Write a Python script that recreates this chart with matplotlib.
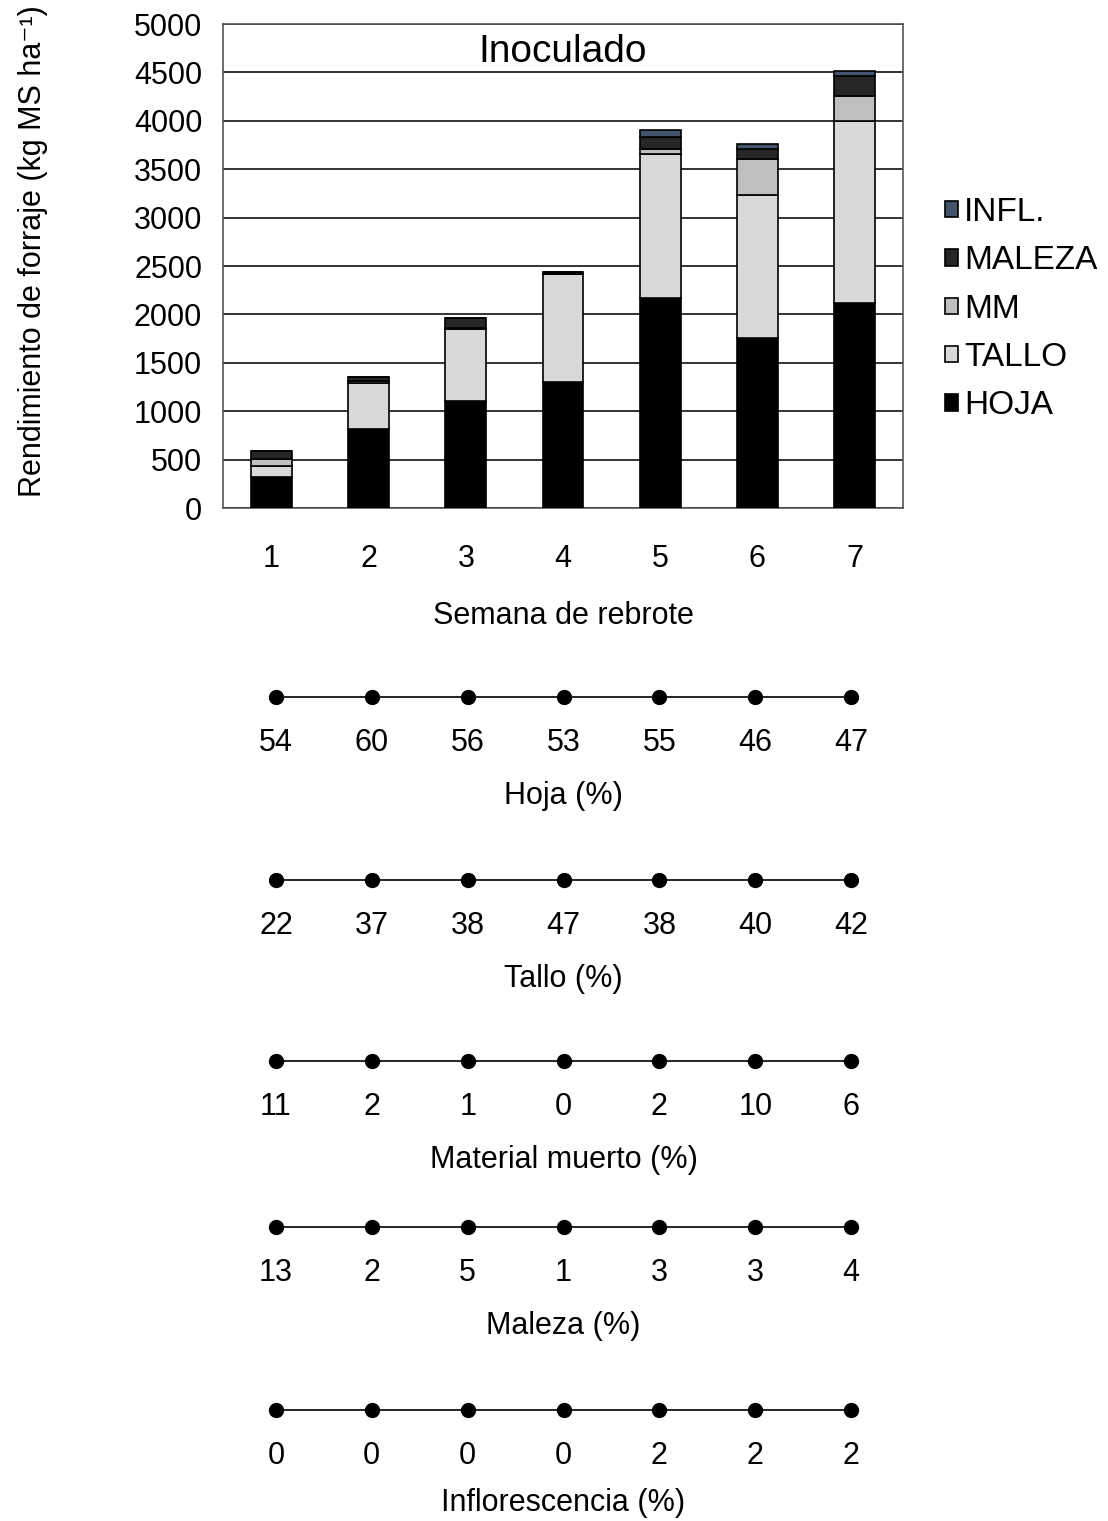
import numpy as np
import matplotlib.pyplot as plt

plt.rcParams['font.family'] = ['Liberation Sans', 'DejaVu Sans']

semanas = ['1', '2', '3', '4', '5', '6', '7']
hoja = [320, 815, 1105, 1300, 2165, 1755, 2115]
tallo = [115, 480, 740, 1115, 1490, 1480, 1880]
mm = [70, 18, 18, 5, 55, 370, 260]
maleza = [85, 45, 100, 20, 120, 100, 205]
infl = [0, 0, 0, 0, 75, 60, 50]

pct_hoja = [54, 60, 56, 53, 55, 46, 47]
pct_tallo = [22, 37, 38, 47, 38, 40, 42]
pct_mm = [11, 2, 1, 0, 2, 10, 6]
pct_maleza = [13, 2, 5, 1, 3, 3, 4]
pct_infl = [0, 0, 0, 0, 2, 2, 2]

W, H = 1108, 1521
fig = plt.figure(figsize=(W / 100, H / 100), dpi=100)


def px_axes(left, top, right, bottom):
  return fig.add_axes([left / W, 1 - bottom / H, (right - left) / W, (bottom - top) / H])


# main stacked bar chart
ax = px_axes(223, 24, 903, 508)
x = np.arange(len(semanas))
series = [('HOJA', hoja, '#000000'),
          ('TALLO', tallo, '#d9d9d9'),
          ('MM', mm, '#bfbfbf'),
          ('MALEZA', maleza, '#262626'),
          ('INFL.', infl, '#44546a')]
bottom = np.zeros(len(semanas))
handles = []
for name, vals, col in series:
  b = ax.bar(x, vals, width=0.42, bottom=bottom, color=col, edgecolor='black',
             linewidth=1.2, label=name, zorder=3)
  handles.append(b)
  bottom += np.array(vals)

ax.set_xlim(-0.5, 6.5)
ax.set_ylim(0, 5000)
ax.set_yticks(np.arange(0, 5001, 500))
ax.set_xticks(x)
ax.set_xticklabels(semanas)
ax.yaxis.grid(True, color='#111111', linewidth=1.2, zorder=0)
ax.tick_params(axis='both', labelsize=22, length=0)
ax.tick_params(axis='x', pad=26)
ax.tick_params(axis='y', pad=15)
for s in ax.spines.values():
  s.set_color('#555555')
  s.set_linewidth(1.2)
ax.text(0.5, 0.943, 'Inoculado', transform=ax.transAxes, ha='center', va='center', fontsize=28)
ax.set_xlabel('Semana de rebrote', fontsize=22, labelpad=19)
ax.set_ylabel('Rendimiento de forraje (kg MS ha⁻¹)', fontsize=22)
ax.yaxis.set_label_coords(-0.257, 0.531)

leg = fig.legend(handles[::-1], [s[0] for s in series][::-1],
                 loc='upper left', bbox_to_anchor=(945 / W, 1 - 197 / H),
                 frameon=False, fontsize=24, handlelength=0.38, handleheight=0.38,
                 handletextpad=0.2, labelspacing=0.52, borderaxespad=0, borderpad=0)

# strips of percentages
strips = [('Hoja (%)', pct_hoja, 697, 17),
          ('Tallo (%)', pct_tallo, 880, 17),
          ('Material muerto (%)', pct_mm, 1061, 17),
          ('Maleza (%)', pct_maleza, 1227, 17),
          ('Inflorescencia (%)', pct_infl, 1410, 12)]
for title, vals, yl, lp in strips:
  sa = px_axes(228, yl - 10, 899, yl + 10)
  sa.plot(x, np.zeros(len(x)), color='black', linewidth=1.2,
          marker='o', markersize=10, markerfacecolor='black')
  sa.set_xlim(-0.5, 6.5)
  sa.set_ylim(-1, 1)
  sa.set_yticks([])
  sa.set_xticks(x)
  sa.set_xticklabels([str(v) for v in vals])
  sa.tick_params(axis='x', labelsize=22, length=0, pad=15)
  for s in sa.spines.values():
    s.set_visible(False)
  sa.patch.set_alpha(0)
  sa.set_xlabel(title, fontsize=22, labelpad=lp)

fig.savefig('out.png', dpi=100)
